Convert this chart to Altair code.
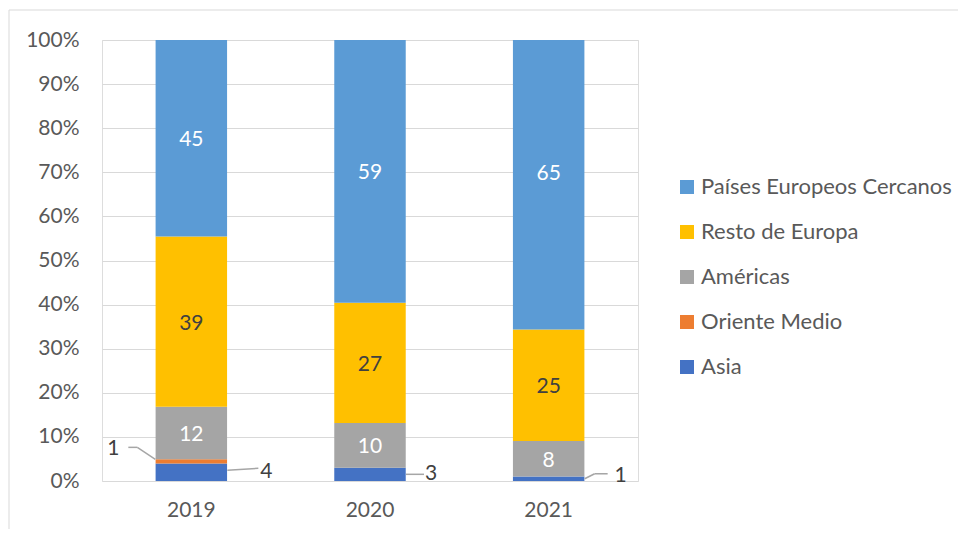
import altair as alt
import pandas as pd

years = ["2019", "2020", "2021"]
series_stack = ["Asia", "Oriente Medio", "Américas", "Resto de Europa", "Países Europeos Cercanos"]
legend_order = ["Países Europeos Cercanos", "Resto de Europa", "Américas", "Oriente Medio", "Asia"]
colors = ["#5B9BD5", "#FFC000", "#A5A5A5", "#ED7D31", "#4472C4"]

asia = [4, 3, 1]
oriente = [1, 0, 0]
americas = [12, 10, 8]
resto = [39, 27, 25]
paises = [45, 59, 65]

values = {
    "Asia": asia,
    "Oriente Medio": oriente,
    "Américas": americas,
    "Resto de Europa": resto,
    "Países Europeos Cercanos": paises,
}

rows = []
for i, yr in enumerate(years):
    total = sum(values[s][i] for s in series_stack)
    cum = 0.0
    for s in series_stack:
        v = values[s][i]
        start = cum / total
        cum += v
        end = cum / total
        rows.append({"year": yr, "series": s, "value": v,
                     "start": start, "end": end, "mid": (start + end) / 2})
df = pd.DataFrame(rows)

FONT = "Lato"
FS = 21
TXT = "#595959"

x_enc = alt.X("year:N", title=None,
              scale=alt.Scale(domain=years, paddingInner=0.6, paddingOuter=0.3),
              axis=alt.Axis(labelAngle=0, labelFontSize=FS, labelColor=TXT, labelFont=FONT,
                            ticks=False, tickSize=0, domain=False, labelPadding=18))

bars = alt.Chart(df).mark_bar().encode(
    x=x_enc,
    y=alt.Y("start:Q", title=None,
            scale=alt.Scale(domain=[0, 1], nice=False),
            axis=alt.Axis(values=[i / 10 for i in range(11)], format=".0%",
                          labelFontSize=FS, labelColor=TXT, labelFont=FONT,
                          ticks=False, tickSize=0, domain=False, labelPadding=23,
                          gridColor="#D9D9D9", gridWidth=1)),
    y2="end:Q",
    color=alt.Color("series:N", title=None,
                    scale=alt.Scale(domain=legend_order, range=colors),
                    legend=alt.Legend(orient="none", legendX=574, legendY=136,
                                      symbolType="square", symbolSize=196,
                                      symbolStrokeWidth=0, labelFontSize=22,
                                      labelFont=FONT, labelColor=TXT, labelOffset=3,
                                      labelLimit=400, rowPadding=23, padding=0)),
)

inside_series = ["Américas", "Resto de Europa", "Países Europeos Cercanos"]

inside = alt.Chart(df).transform_filter(
    alt.FieldOneOfPredicate(field="series", oneOf=inside_series)
).transform_filter(
    ~((alt.datum.year == "2021") & (alt.datum.series == "Países Europeos Cercanos"))
).mark_text(font=FONT, fontSize=FS, baseline="middle", align="center", dy=2).encode(
    x="year:N",
    y="mid:Q",
    text="value:Q",
    color=alt.condition(alt.datum.series == "Resto de Europa",
                        alt.value("#404040"), alt.value("white")),
)

inside_2021 = alt.Chart(df).transform_filter(
    (alt.datum.year == "2021") & (alt.datum.series == "Países Europeos Cercanos")
).mark_text(font=FONT, fontSize=FS, baseline="middle", align="center",
            dy=-11, color="white").encode(
    x="year:N", y="mid:Q", text="value:Q")

LEAD = "#A6A6A6"


def leader(year, series, x1, y1, x2, y2):
    return alt.Chart(df).transform_filter(
        (alt.datum.year == year) & (alt.datum.series == series)
    ).mark_rule(color=LEAD, strokeWidth=1.5,
                xOffset=x1, yOffset=y1, x2Offset=x2, y2Offset=y2).encode(
        x="year:N", x2="year:N", y="mid:Q", y2="mid:Q")


def outlabel(year, series, dx, dy):
    return alt.Chart(df).transform_filter(
        (alt.datum.year == year) & (alt.datum.series == series)
    ).mark_text(font=FONT, fontSize=FS, color="#404040", baseline="middle",
                align="center", dx=dx, dy=dy).encode(
        x="year:N", y="mid:Q", text="value:Q")


leaders = [
    leader("2019", "Asia", 36, -2, 67, -4),
    outlabel("2019", "Asia", 75, 0),
    leader("2019", "Oriente Medio", -36, -2, -54, -14),
    leader("2019", "Oriente Medio", -54, -14, -63, -14),
    outlabel("2019", "Oriente Medio", -78, -12),
    leader("2020", "Asia", 36, 0, 54, 0),
    outlabel("2020", "Asia", 61, 0),
    leader("2021", "Asia", 36, 0, 46, -5),
    leader("2021", "Asia", 46, -5, 59, -5),
    outlabel("2021", "Asia", 72, -3),
]

frame = alt.Chart(alt.Data(values=[{}])).mark_rect(
    fill="white", fillOpacity=0, stroke="#D9D9D9", strokeWidth=1
).encode(x=alt.value(-93), x2=alt.value(950), y=alt.value(-30), y2=alt.value(560))

chart = alt.layer(frame, bars, inside, inside_2021, *leaders).properties(
    width=536, height=441,
    autosize=alt.AutoSizeParams(type="none"),
    padding={"left": 94, "top": 32, "right": 320, "bottom": 48},
).configure_view(stroke=None).configure(background="white")

chart.save("out.html", embed_options={"renderer": "svg", "actions": False})
